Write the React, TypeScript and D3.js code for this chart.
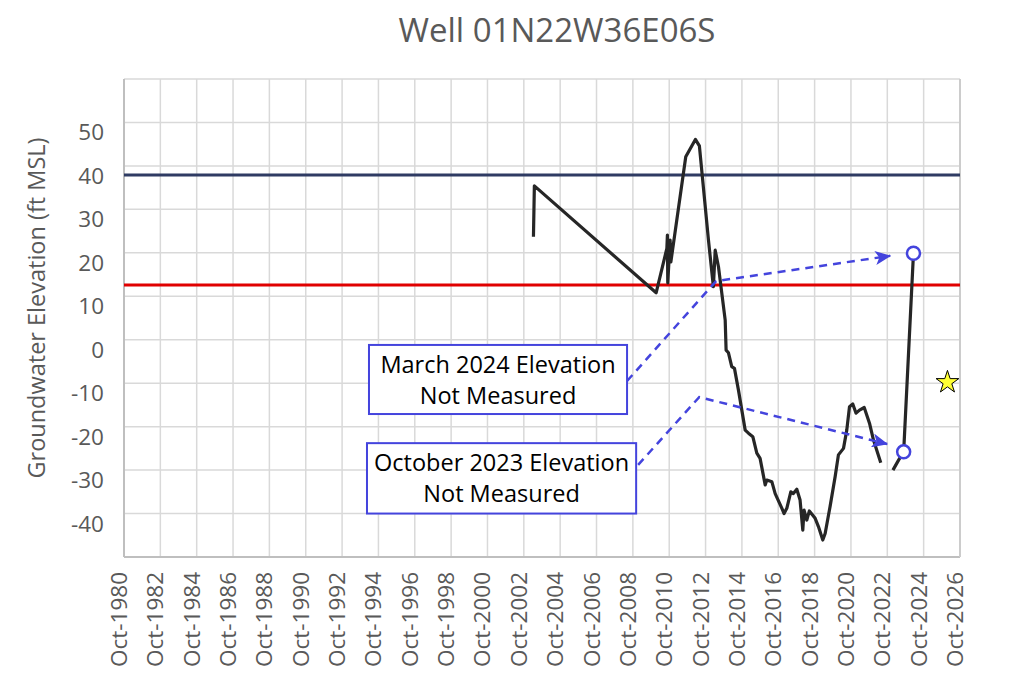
import React from 'react';
import * as d3 from 'd3';

// chart text
const chartTitle = 'Well 01N22W36E06S';
const yTitle = 'Groundwater Elevation (ft MSL)';

// axis ticks (x ticks fall in October of each labelled year)
const tickYears = [1980, 1982, 1984, 1986, 1988, 1990, 1992, 1994, 1996, 1998, 2000, 2002,
  2004, 2006, 2008, 2010, 2012, 2014, 2016, 2018, 2020, 2022, 2024, 2026];
const gridValues = [-50, -40, -30, -20, -10, 0, 10, 20, 30, 40, 50, 60];
const labelValues = [-40, -30, -20, -10, 0, 10, 20, 30, 40, 50];

// measured groundwater elevation, decimal year / ft MSL
const histYears = [2003.28, 2003.33, 2010.03, 2010.62, 2010.65, 2010.67, 2010.8, 2010.84, 2011.66,
  2012.19, 2012.41, 2012.91, 2013.18, 2013.28, 2013.46, 2013.83, 2013.88, 2014.01, 2014.19, 2014.34,
  2014.56, 2014.93, 2015.11, 2015.35, 2015.57, 2015.75, 2016.03, 2016.12, 2016.4, 2016.58, 2016.95,
  2017.07, 2017.22, 2017.44, 2017.58, 2017.77, 2017.95, 2018.1, 2018.17, 2018.32, 2018.46, 2018.78,
  2018.96, 2019.2, 2019.33, 2019.6, 2019.88, 2020.06, 2020.34, 2020.52, 2020.67, 2020.85, 2021.03,
  2021.22, 2021.48, 2021.77, 2021.99, 2022.39];
const histElev = [23.7, 35.4, 10.8, 21.0, 24.1, 13.1, 22.9, 17.9, 42.1,
  46.1, 44.6, 22.9, 12.2, 20.6, 16.8, 4.5, -2.4, -3.0, -6.2, -6.6,
  -11.6, -20.8, -21.5, -22.3, -26.1, -27.3, -33.4, -32.3, -32.7, -35.4, -38.8,
  -40.0, -38.8, -35.0, -35.4, -34.4, -36.9, -43.8, -39.2, -41.5, -39.4, -41.1,
  -43.0, -46.1, -44.6, -38.4, -31.5, -26.5, -25.0, -20.8, -15.4, -14.8, -16.9,
  -16.2, -15.6, -19.2, -23.1, -28.3];
const recentYears = [2023.06, 2023.37, 2023.65, 2024.19];
const recentElev = [-30.0, -27.7, -25.8, 19.9];
// not-measured placeholders (open circles)
const missedYears = [2023.65, 2024.19];
const missedElev = [-25.8, 19.9];
// star marker
const starYear = [2026.06];
const starElev = [-9.8];

// reference levels
const upperLevel = 37.9;
const lowerLevel = 12.6;

// annotation callouts: box corners, leader start, elbow, arrow tip (year, ft)
const noteLines = [['March 2024 Elevation', 'Not Measured'], ['October 2023 Elevation', 'Not Measured']];
const noteBoxX = [[1994.23, 2008.43], [1994.12, 2008.93]];
const noteBoxY = [[-1.2, -17.1], [-23.8, -40.0]];
const noteLeaderX = [[2008.43, 2013.33, 2022.91], [2009.04, 2012.4, 2022.74]];
const noteLeaderY = [[-9.5, 13.5, 19.3], [-28.8, -13.2, -24.0]];

const W = 1011;
const H = 675;
const margin = { top: 79, right: 51, bottom: 118, left: 124 };
const font = '"Open Sans", "Liberation Sans", sans-serif';
const blue = '#4444DD';

export default function App() {
  const x = d3.scaleLinear().domain([1980.75, 2026.75]).range([margin.left, W - margin.right]);
  const y = d3.scaleLinear().domain([-50, 60]).range([H - margin.bottom, margin.top]);

  const line = d3.line<[number, number]>().x(d => x(d[0])).y(d => y(d[1]));
  const hist = line(histYears.map((t, i) => [t, histElev[i]]) as [number, number][]) || '';
  const recent = line(recentYears.map((t, i) => [t, recentElev[i]]) as [number, number][]) || '';
  const star = d3.symbol(d3.symbolStar, 160)() || '';

  const x0 = x.range()[0], x1 = x.range()[1];
  const y0 = y.range()[0], y1 = y.range()[1];

  return (
    <svg width={W} height={H} style={{ position: 'absolute', left: 0, top: 0, background: '#fff' }}
      fontFamily={font}>
      <defs>
        <marker id="arrow" viewBox="0 0 16 14" refX="15" refY="7" markerWidth="16" markerHeight="14"
          markerUnits="userSpaceOnUse" orient="auto">
          <path d="M0,0 L16,7 L0,14 L4,7 Z" fill={blue} />
        </marker>
      </defs>

      <text x={557} y={42} textAnchor="middle" fontSize={33} fill="#595959">{chartTitle}</text>

      {/* gridlines */}
      {gridValues.map(v => (
        <line key={'h' + v} x1={x0} x2={x1} y1={y(v)} y2={y(v)} stroke="#D9D9D9" strokeWidth={1.5} />
      ))}
      {tickYears.map(t => (
        <line key={'v' + t} x1={x(t + 0.75)} x2={x(t + 0.75)} y1={y1} y2={y0} stroke="#D9D9D9" strokeWidth={1.5} />
      ))}
      <line x1={x0} x2={x0} y1={y1} y2={y0} stroke="#BFBFBF" strokeWidth={2} />
      <line x1={x0} x2={x1} y1={y0} y2={y0} stroke="#BFBFBF" strokeWidth={2} />
      <line x1={x1} x2={x1} y1={y1} y2={y0} stroke="#CCCCCC" strokeWidth={2} />

      {/* axis labels */}
      {labelValues.map(v => (
        <text key={'yl' + v} x={104} y={y(v) + 18} textAnchor="end" fontSize={22.5} fill="#595959">{v}</text>
      ))}
      {tickYears.map(t => (
        <text key={'xl' + t} transform={`translate(${x(t + 0.75) + 3},${572}) rotate(-90)`}
          textAnchor="end" fontSize={22.5} fill="#595959">{'Oct-' + t}</text>
      ))}
      <text transform={`translate(${45},${308}) rotate(-90)`} textAnchor="middle" fontSize={23.5} fill="#595959">
        {yTitle}
      </text>

      {/* reference levels */}
      <line x1={x0} x2={x1} y1={y(upperLevel)} y2={y(upperLevel)} stroke="#2F3B63" strokeWidth={3} />
      <line x1={x0} x2={x1} y1={y(lowerLevel)} y2={y(lowerLevel)} stroke="#E00000" strokeWidth={3} />

      {/* measured series */}
      <path d={hist} fill="none" stroke="#262626" strokeWidth={3.2} strokeLinejoin="round" />
      <path d={recent} fill="none" stroke="#262626" strokeWidth={3.2} strokeLinejoin="round" />

      {/* callouts */}
      {noteLines.map((lines, i) => {
        const bx = noteBoxX[i].map(x), by = noteBoxY[i].map(y);
        const pts = noteLeaderX[i].map((t, j) => [t, noteLeaderY[i][j]] as [number, number]);
        const cx = (bx[0] + bx[1]) / 2;
        return (
          <g key={'n' + i}>
            <path d={line(pts) || ''} fill="none" stroke={blue} strokeWidth={2.5} strokeDasharray="8,6"
              markerEnd="url(#arrow)" />
            <rect x={bx[0]} y={by[0]} width={bx[1] - bx[0]} height={by[1] - by[0]} fill="#fff"
              stroke={blue} strokeWidth={2} />
            {lines.map((s, k) => (
              <text key={k} x={cx} y={by[0] + 28 + k * 31} textAnchor="middle" fontSize={23.5} fill="#000">{s}</text>
            ))}
          </g>
        );
      })}

      {missedYears.map((t, i) => (
        <circle key={'c' + i} cx={x(t)} cy={y(missedElev[i])} r={6.5} fill="#fff" stroke={blue} strokeWidth={2.5} />
      ))}
      {starYear.map((t, i) => (
        <path key={'s' + i} d={star} transform={`translate(${x(t)},${y(starElev[i])})`} fill="#FFFF33"
          stroke="#000" strokeWidth={1} />
      ))}
    </svg>
  );
}
